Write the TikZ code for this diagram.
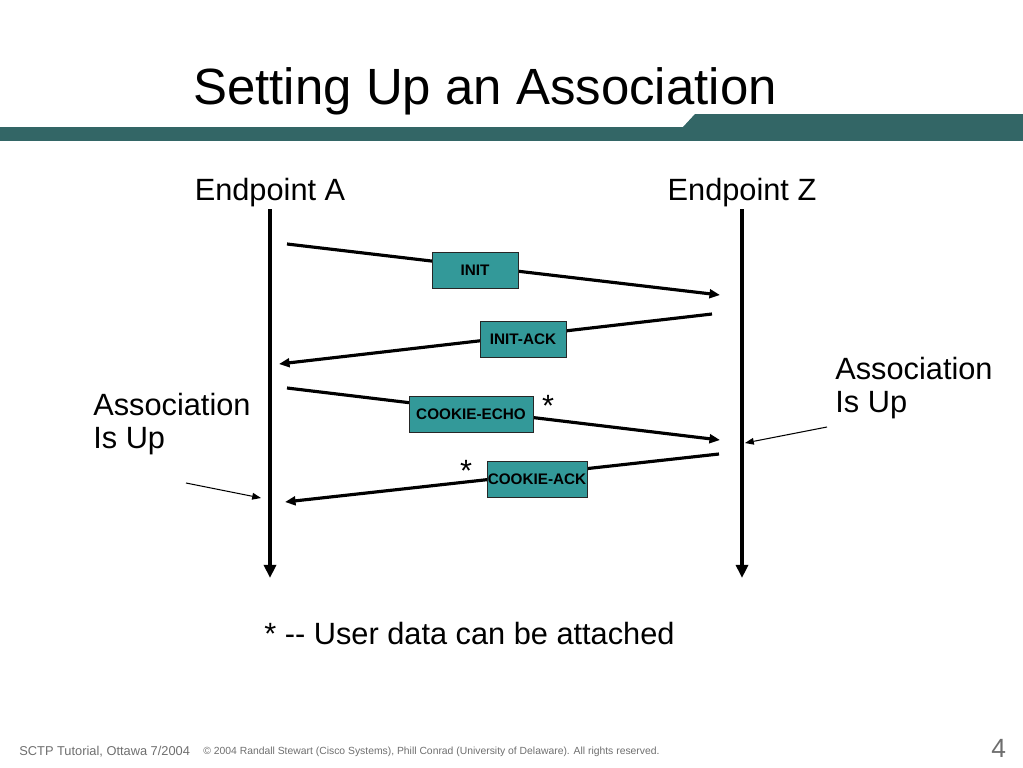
\documentclass[tikz,border=0pt]{standalone}
\usepackage{fontspec}
\setmainfont{Liberation Sans}
\usetikzlibrary{arrows.meta}

\begin{document}
\begin{tikzpicture}[x=0.02cm, y=-0.02cm,
    lifeline/.style={line width=2.3pt, -{Triangle[length=7.5pt, width=6.8pt]}},
    message/.style={line width=1.8pt, -{Triangle[length=6pt, width=5pt]}},
    pointer/.style={line width=0.6pt, -{Triangle[length=5pt, width=3.8pt]}},
    chunk/.style={draw=black!85, line width=0.5pt, fill=chunkfill, minimum height=0.72cm,
      inner sep=0pt, font=\fontsize{8.7}{10}\selectfont\bfseries},
    bigtext/.style={font=\fontsize{17.5}{19.3}\selectfont, inner sep=0pt, align=left},
    foot/.style={anchor=base west, inner sep=0pt, text=footgray}]
  % Define colors
  \definecolor{band}{RGB}{51,102,102}
  \definecolor{chunkfill}{RGB}{51,153,153}
  \definecolor{footgray}{RGB}{110,110,110}

  \useasboundingbox (0,0) rectangle (1023,767);

  % Title and header band
  \node[anchor=base west, inner sep=0pt, font=\fontsize{29}{35}\selectfont] (title) at (193,104) {Setting Up an Association};
  \fill[band] (0,127) rectangle (1023,141);
  \fill[band] (683,127) -- (695,114) -- (1023,114) -- (1023,127) -- cycle;

  % Endpoints and their time lines
  \node[bigtext, anchor=base] (epA) at (270,200) {Endpoint A};
  \node[bigtext, anchor=base] (epZ) at (742,200) {Endpoint Z};
  \coordinate (aTop) at (270,209);
  \coordinate (aEnd) at (270,578);
  \coordinate (zTop) at (742,209);
  \coordinate (zEnd) at (742,578);
  \draw[lifeline] (aTop) -- (aEnd);
  \draw[lifeline] (zTop) -- (zEnd);

  % Message exchange
  \coordinate (a1) at (287,244);
  \coordinate (z1) at (720,295);
  \coordinate (z2) at (712,314);
  \coordinate (a2) at (279,364);
  \coordinate (a3) at (287,388);
  \coordinate (z3) at (720,440);
  \coordinate (z4) at (719,454);
  \coordinate (a4) at (285,502);
  \foreach \from/\to in {a1/z1, z2/a2, a3/z3, z4/a4}
    \draw[message] (\from) -- (\to);

  % Chunk boxes (on top of the arrows)
  \node[chunk, minimum width=1.72cm] (init) at (475,270) {INIT};
  \node[chunk, minimum width=1.72cm] (initAck) at (523,339) {INIT-ACK};
  \node[chunk, minimum width=2.48cm] (cookieEcho) at (471,414) {COOKIE-ECHO};
  \node[chunk, minimum width=2.0cm] (cookieAck) at (537,479) {COOKIE-ACK};

  % User data may ride along
  \node[bigtext, anchor=base] (starEcho) at (548,416) {*};
  \node[bigtext, anchor=base] (starAck) at (466,481) {*};

  % Association is up on both sides
  \node[bigtext, anchor=west] (upA) at (93,424) {Association\\Is Up};
  \node[bigtext, anchor=west] (upZ) at (835,388) {Association\\Is Up};
  \coordinate (pA) at (186,483);
  \coordinate (hitA) at (261,498);
  \coordinate (pZ) at (827,427);
  \coordinate (hitZ) at (745,443);
  \draw[pointer] (pA) -- (hitA);
  \draw[pointer] (pZ) -- (hitZ);

  % Footnote
  \node[bigtext, anchor=base west] (note) at (264,644) {* -\kern0pt- User data can be attached};

  % Slide footer
  \node[foot, font=\fontsize{7.3}{9}\selectfont] (event) at (19,755) {SCTP Tutorial, Ottawa 7/2004};
  \node[foot, font=\fontsize{5.9}{7}\selectfont] (rights) at (203,754) {\textcopyright{} 2004 Randall Stewart (Cisco Systems), Phill Conrad (University of Delaware). All rights reserved.};
  \node[foot, font=\fontsize{15}{18}\selectfont] (page) at (991,757) {4};
\end{tikzpicture}
\end{document}
